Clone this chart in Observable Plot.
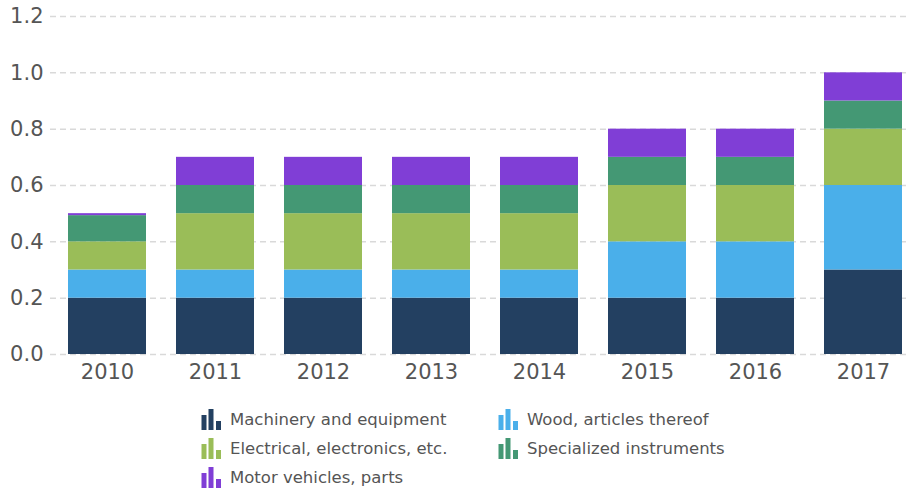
<!DOCTYPE html>
<html>
<head>
<meta charset="utf-8">
<script src="https://cdn.jsdelivr.net/npm/d3@7"></script>
<script src="https://cdn.jsdelivr.net/npm/@observablehq/plot@0.6"></script>
<style>
  html, body { margin: 0; padding: 0; background: #fff; }
  body { width: 910px; height: 491px; overflow: hidden; font-family: "DejaVu Sans", Verdana, sans-serif; }
  #legend {
    display: grid;
    grid-template-columns: 297px auto;
    grid-auto-rows: 29px;
    margin-left: 201px;
    margin-top: 10px;
    font-size: 16.5px;
    color: #555;
  }
  .item { display: flex; align-items: center; white-space: nowrap; }
  .item svg { margin-right: 8px; }
</style>
</head>
<body>
<div id="chart"></div>
<div id="legend"></div>
<script>
const years = ["2010", "2011", "2012", "2013", "2014", "2015", "2016", "2017"];
const seriesNames = [
  "Machinery and equipment",
  "Wood, articles thereof",
  "Electrical, electronics, etc.",
  "Specialized instruments",
  "Motor vehicles, parts"
];
const seriesColors = ["#234061", "#4aafea", "#9abd58", "#449874", "#803ed6"];
const machinery   = [0.2, 0.2, 0.2, 0.2, 0.2, 0.2, 0.2, 0.3];
const wood        = [0.1, 0.1, 0.1, 0.1, 0.1, 0.2, 0.2, 0.3];
const electrical  = [0.1, 0.2, 0.2, 0.2, 0.2, 0.2, 0.2, 0.2];
const specialized = [0.093, 0.1, 0.1, 0.1, 0.1, 0.1, 0.1, 0.1];
const motor       = [0.007, 0.1, 0.1, 0.1, 0.1, 0.1, 0.1, 0.1];
const yTicks = [0, 0.2, 0.4, 0.6, 0.8, 1.0, 1.2];

const seriesValues = [machinery, wood, electrical, specialized, motor];
const data = [];
years.forEach((year, i) => {
  seriesNames.forEach((name, s) => {
    data.push({ year, series: name, value: seriesValues[s][i] });
  });
});

const chart = Plot.plot({
  width: 910,
  height: 395,
  marginLeft: 50,
  marginRight: 0,
  marginTop: 16,
  marginBottom: 41,
  style: { fontSize: "21px", fontFamily: "DejaVu Sans, Verdana, sans-serif", color: "#555", background: "#fff" },
  x: { domain: years, paddingInner: 0.28, paddingOuter: 0.111, align: 0.667, label: null },
  y: { domain: [0, 1.2], label: null },
  color: { domain: seriesNames, range: seriesColors },
  marks: [
    Plot.ruleY(yTicks, { stroke: "#d9d9d9", strokeWidth: 1.5, strokeDasharray: "6,4" }),
    Plot.barY(data, { x: "year", y: "value", fill: "series" }),
    Plot.axisY({ ticks: yTicks, tickFormat: d3.format(".1f"), tickSize: 0, tickPadding: 7, label: null }),
    Plot.axisX({ tickSize: 0, tickPadding: 10, label: null })
  ]
});
document.getElementById("chart").appendChild(chart);

const legend = document.getElementById("legend");
seriesNames.forEach((name, s) => {
  const item = document.createElement("div");
  item.className = "item";
  const c = seriesColors[s];
  item.innerHTML = `<svg width="21" height="21" viewBox="0 0 21 21">
    <rect x="0.5" y="6" width="5" height="15" fill="${c}"/>
    <rect x="7.5" y="0" width="5" height="21" fill="${c}"/>
    <rect x="15" y="12" width="5" height="9" fill="${c}"/>
  </svg><span>${name}</span>`;
  legend.appendChild(item);
});
</script>
</body>
</html>
